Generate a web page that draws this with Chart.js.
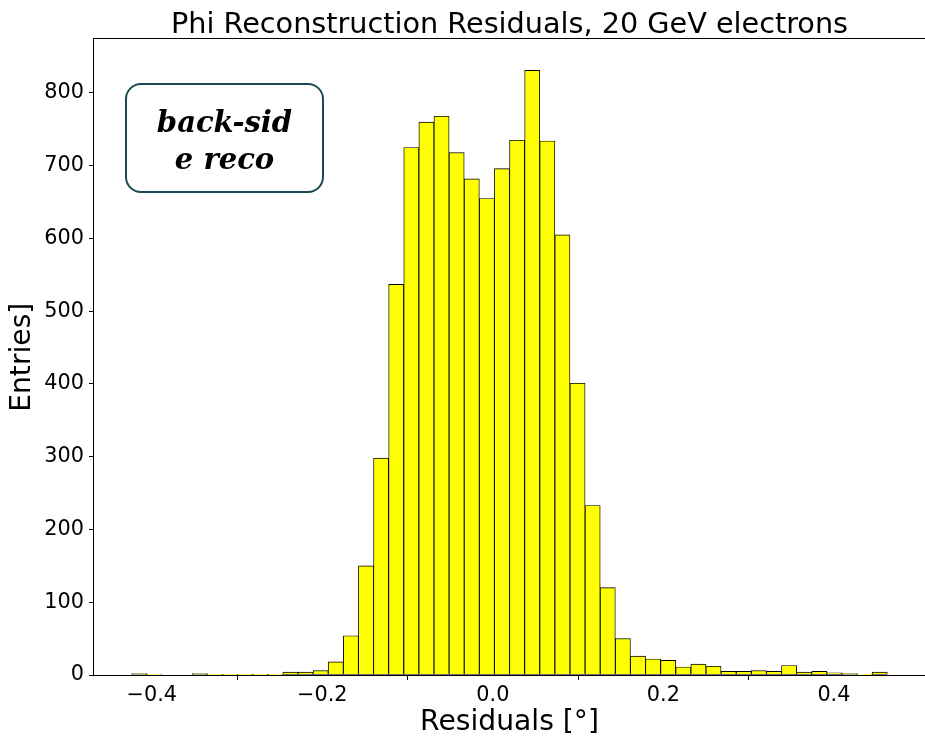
<!DOCTYPE html>
<html>
<head>
<meta charset="utf-8">
<script src="https://cdn.jsdelivr.net/npm/chart.js@4.4.0/dist/chart.umd.min.js"></script>
<style>
  html, body { margin: 0; padding: 0; background: #fff; }
  #wrap { width: 925px; height: 740px; }
</style>
</head>
<body>
<div id="wrap"><canvas id="histChart" width="925" height="740"></canvas></div>
<script>
// histogram bins (50 bins) and counts
const binStart = -0.4234;
const binWidth = 0.01772;
const counts = [
  2, 1, 0, 0, 2, 1, 1, 1, 1, 1,
  4, 4, 6, 18, 54, 150, 298, 537, 725, 760,
  768, 718, 682, 655, 696, 735, 831, 734, 605, 401,
  233, 120, 50, 26, 22, 20, 11, 15, 12, 5,
  5, 6, 5, 13, 4, 5, 3, 2, 1, 4
];

const xTicks = [-0.4, -0.2, 0.0, 0.2, 0.4];
const xTickLabels = ['\u22120.4', '\u22120.2', '0.0', '0.2', '0.4'];
const yTicks = [0, 100, 200, 300, 400, 500, 600, 700, 800];
const xLimits = [-0.4677, 0.5068];
const yLimits = [0, 873.6];

const titleText = 'Phi Reconstruction Residuals, 20 GeV electrons';
const xLabel = 'Residuals [\u00b0]';
const yLabel = 'Entries]';
const boxLines = ['back-sid', 'e reco'];

const points = counts.map((c, i) => ({ x: binStart + binWidth * (i + 0.5), y: c }));

Chart.defaults.font.family = "'DejaVu Sans', sans-serif";
Chart.defaults.color = '#000';

const isTick = (list, v) => list.some(t => Math.abs(t - v) < 1e-9);

// axes frame (matplotlib style spines)
const framePlugin = {
  id: 'frame',
  afterDatasetsDraw(chart) {
    const { ctx, chartArea: a } = chart;
    ctx.save();
    ctx.strokeStyle = '#000';
    ctx.lineWidth = 1;
    ctx.strokeRect(Math.round(a.left) - 0.5, Math.round(a.top) - 0.5,
      Math.round(a.right - a.left) + 1, Math.round(a.bottom - a.top) + 1);
    ctx.restore();
  }
};

// text box in the upper left
const boxPlugin = {
  id: 'textBox',
  afterDatasetsDraw(chart) {
    const { ctx } = chart;
    const x = 126, y = 84, w = 197, h = 108, r = 15;
    ctx.save();
    ctx.beginPath();
    ctx.roundRect(x, y, w, h, r);
    ctx.fillStyle = '#fff';
    ctx.fill();
    ctx.lineWidth = 2;
    ctx.strokeStyle = '#1a4a55';
    ctx.stroke();
    ctx.fillStyle = '#000';
    ctx.font = "italic bold 29px 'DejaVu Serif', serif";
    ctx.textAlign = 'center';
    ctx.textBaseline = 'alphabetic';
    ctx.fillText(boxLines[0], x + w / 2, 132);
    ctx.fillText(boxLines[1], x + w / 2, 169);
    ctx.restore();
  }
};

const ctx = document.getElementById('histChart').getContext('2d');
const histChart = new Chart(ctx, {
  type: 'bar',
  data: {
    datasets: [{
      data: points,
      backgroundColor: '#ffff00',
      borderColor: '#000',
      borderWidth: 0.9,
      borderSkipped: false,
      barPercentage: 1.0,
      categoryPercentage: 1.0
    }]
  },
  options: {
    responsive: false,
    animation: false,
    devicePixelRatio: 1,
    layout: { padding: 0 },
    plugins: {
      legend: { display: false },
      tooltip: { enabled: false },
      title: {
        display: true,
        fullSize: false,
        text: titleText,
        font: { size: 28.7, weight: 'normal' },
        color: '#000',
        padding: { top: 8, bottom: -3 }
      }
    },
    scales: {
      x: {
        type: 'linear',
        offset: false,
        min: xLimits[0],
        max: xLimits[1],
        afterBuildTicks: s => { s.ticks = xTicks.map(v => ({ value: v })); },
        afterFit: s => { s.height = 65; },
        ticks: {
          font: { size: 20.8 },
          color: '#000',
          padding: 3,
          maxRotation: 0,
          callback: (v) => {
            const i = xTicks.findIndex(t => Math.abs(t - v) < 1e-9);
            return i >= 0 ? xTickLabels[i] : '';
          }
        },
        grid: {
          drawOnChartArea: false, drawTicks: true, tickLength: 5,
          color: c => (c.tick && isTick(xTicks, c.tick.value)) ? '#000' : 'rgba(0,0,0,0)'
        },
        border: { display: false },
        title: {
          display: true,
          text: xLabel,
          font: { size: 28.2 },
          color: '#000',
          padding: { top: 0, bottom: 0 }
        }
      },
      y: {
        min: yLimits[0],
        max: yLimits[1],
        afterBuildTicks: s => { s.ticks = yTicks.map(v => ({ value: v })); },
        afterFit: s => { s.width = 94; },
        ticks: { font: { size: 20.8 }, color: '#000', padding: 5 },
        grid: {
          drawOnChartArea: false, drawTicks: true, tickLength: 5,
          color: c => (c.tick && isTick(yTicks, c.tick.value)) ? '#000' : 'rgba(0,0,0,0)'
        },
        border: { display: false },
        title: {
          display: true,
          text: yLabel,
          font: { size: 28.2 },
          color: '#000',
          padding: { top: 6, bottom: 0 }
        }
      }
    }
  },
  plugins: [framePlugin, boxPlugin]
});
</script>
</body>
</html>
